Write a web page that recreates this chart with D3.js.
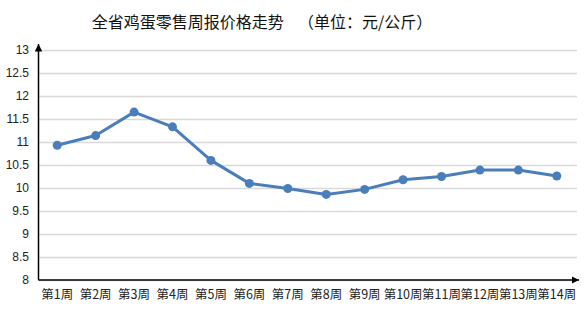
<!DOCTYPE html>
<html>
<head>
<meta charset="utf-8">
<script src="https://cdn.jsdelivr.net/npm/d3@7"></script>
<style>
  body { margin: 0; background: #fff; }
  text { font-family: "Noto Sans CJK SC", "Liberation Sans", sans-serif; }
</style>
</head>
<body>
<div id="chart"></div>
<script>
var weeks = ["第1周","第2周","第3周","第4周","第5周","第6周","第7周","第8周","第9周","第10周","第11周","第12周","第13周","第14周"];
var prices = [10.93, 11.14, 11.65, 11.33, 10.60, 10.10, 9.99, 9.86, 9.97, 10.18, 10.25, 10.39, 10.39, 10.26];
var yTicks = [8, 8.5, 9, 9.5, 10, 10.5, 11, 11.5, 12, 12.5, 13];

var width = 587, height = 310;
var margin = {top: 50, right: 10, bottom: 30, left: 38};

var svg = d3.select("#chart")
  .append("svg")
    .attr("width", width)
    .attr("height", height);

var x = d3.scaleBand()
  .domain(weeks)
  .range([margin.left, width - margin.right - 1]);

var y = d3.scaleLinear()
  .domain([8, 13])
  .range([height - margin.bottom, margin.top]);

// title
svg.append("text")
  .attr("x", 262)
  .attr("y", 28)
  .attr("text-anchor", "middle")
  .style("font-size", "16px")
  .style("fill", "#111")
  .text("全省鸡蛋零售周报价格走势\u00a0\u00a0\u00a0\u00a0（单位：元/公斤）");

// gridlines
svg.append("g")
  .selectAll("line")
  .data(yTicks)
  .enter().append("line")
    .attr("x1", margin.left)
    .attr("x2", width - margin.right)
    .attr("y1", function(d) { return Math.round(y(d)) + 0.5; })
    .attr("y2", function(d) { return Math.round(y(d)) + 0.5; })
    .style("stroke", "#d9d9d9")
    .style("stroke-width", 1.5);

// y axis
var yAxis = svg.append("g")
  .attr("transform", "translate(" + margin.left + ",0)")
  .call(d3.axisLeft(y).tickValues(yTicks).tickSize(0).tickPadding(9).tickFormat(d3.format("")));
yAxis.select(".domain").remove();
yAxis.selectAll("text").style("font-size", "12px").style("fill", "#222").style("font-family", "'Liberation Sans', sans-serif");

// x axis labels
var xAxis = svg.append("g")
  .attr("transform", "translate(0," + (height - margin.bottom) + ")")
  .call(d3.axisBottom(x).tickSize(0).tickPadding(10));
xAxis.select(".domain").remove();
xAxis.selectAll("text").style("font-size", "12.5px").style("fill", "#222");

// axis lines with arrows
svg.append("defs").append("marker")
  .attr("id", "arrow")
  .attr("viewBox", "0 0 10 10")
  .attr("refX", 10).attr("refY", 5)
  .attr("markerWidth", 5).attr("markerHeight", 5)
  .attr("orient", "auto")
  .append("path")
    .attr("d", "M0,0L10,5L0,10z")
    .style("fill", "#000");

var x0 = margin.left + 0.5, y0 = y(8);
svg.append("line")
  .attr("x1", x0).attr("y1", y0)
  .attr("x2", x0).attr("y2", y(13) - 6)
  .style("stroke", "#000").style("stroke-width", 1.5)
  .attr("marker-end", "url(#arrow)");
svg.append("line")
  .attr("x1", x0).attr("y1", y0)
  .attr("x2", width - margin.right + 2).attr("y2", y0)
  .style("stroke", "#000").style("stroke-width", 1.5)
  .attr("marker-end", "url(#arrow)");

// line + markers
var pts = weeks.map(function(w, i) { return {w: w, v: prices[i]}; });
var line = d3.line()
  .x(function(d) { return x(d.w) + x.bandwidth() / 2; })
  .y(function(d) { return y(d.v); });

svg.append("path")
  .datum(pts)
  .attr("d", line)
  .style("fill", "none")
  .style("stroke", "#4a7ebb")
  .style("stroke-width", 3)
  .style("stroke-linejoin", "round");

svg.append("g")
  .selectAll("circle")
  .data(pts)
  .enter().append("circle")
    .attr("cx", function(d) { return x(d.w) + x.bandwidth() / 2; })
    .attr("cy", function(d) { return y(d.v); })
    .attr("r", 4.5)
    .style("fill", "#4a7ebb");
</script>
</body>
</html>
